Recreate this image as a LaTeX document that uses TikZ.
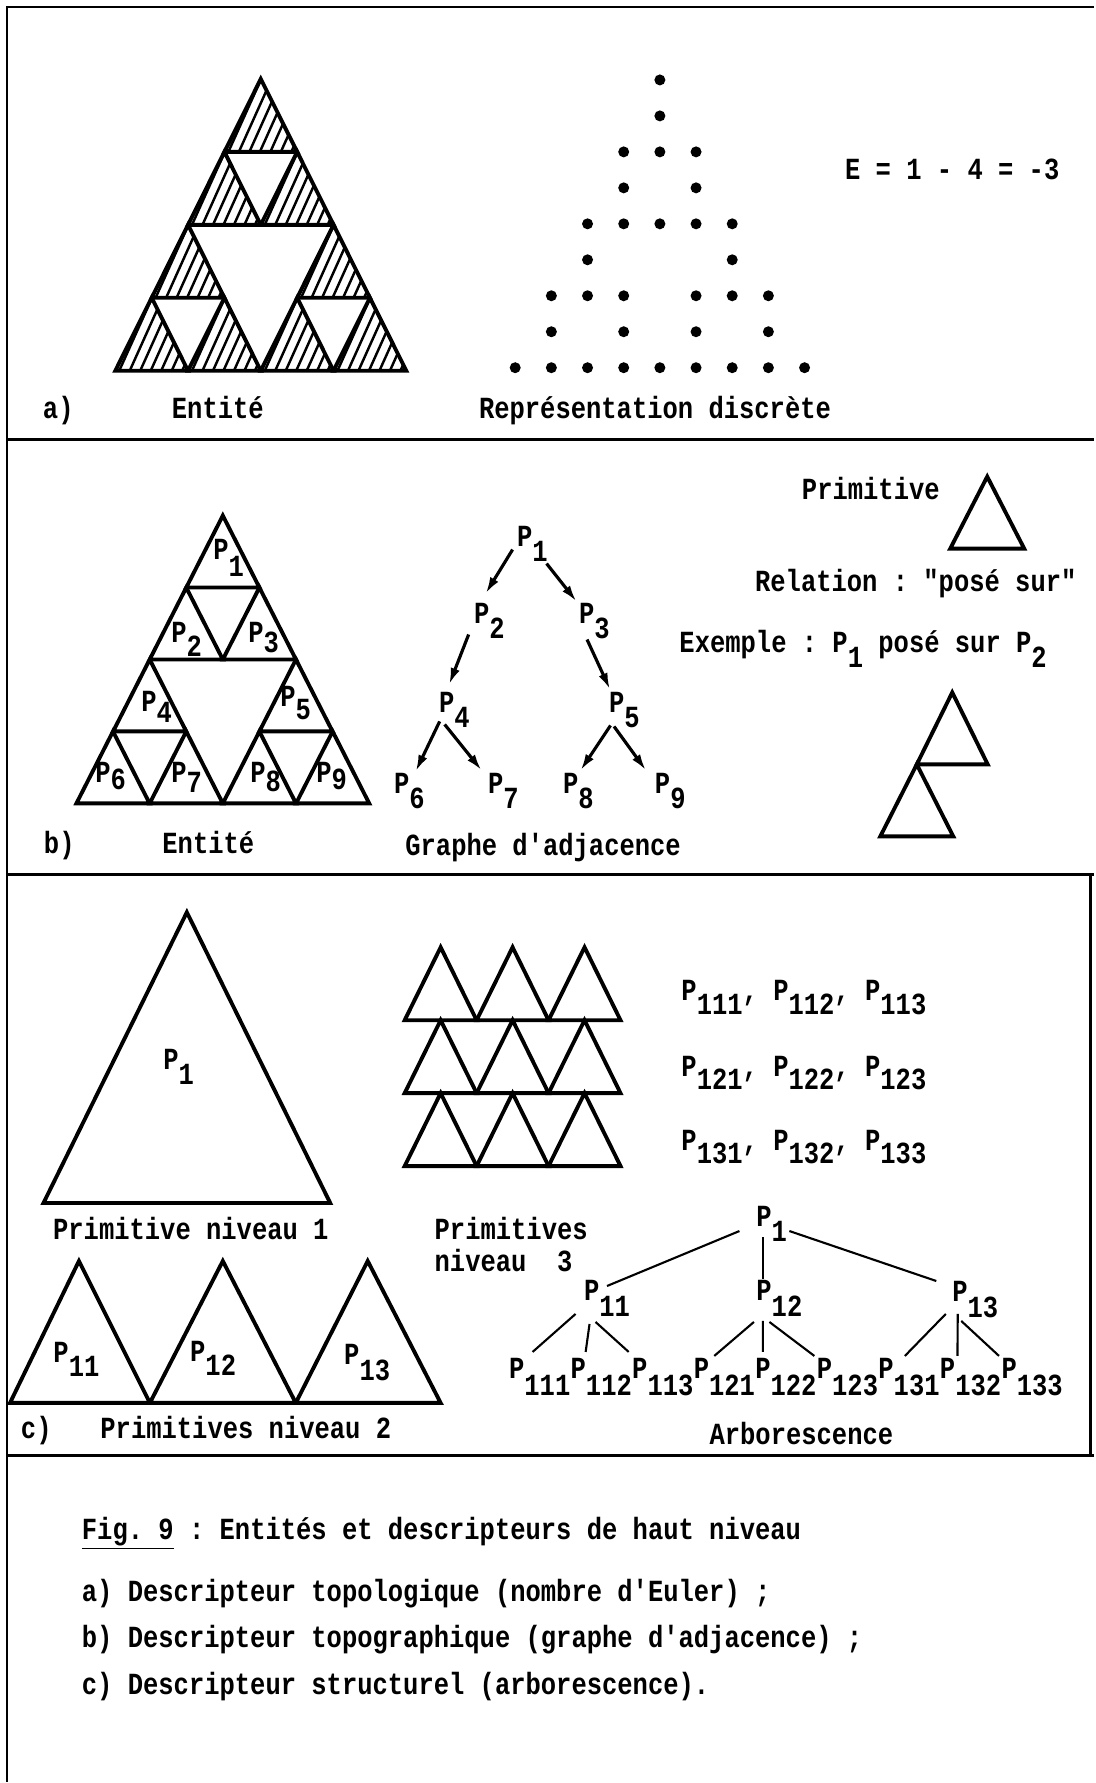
\documentclass[tikz,border=0pt]{standalone}
\usepackage{fontspec}
\setmonofont{Liberation Mono}[FakeStretch=0.83]
\usetikzlibrary{arrows.meta,calc}

\newcommand{\Pn}[2][0.5em]{P\raisebox{-#1}[0pt][0pt]{#2}}
\newcommand{\trpath}[4]{(#1,#2) -- ++(-#3,#4) -- ++({2*#3},0) -- cycle}

\tikzset{
  prt/.style={font=\ttfamily\bfseries\fontsize{17.5}{20}\selectfont, inner sep=0pt, outer sep=0pt},
  prtl/.style={prt, anchor=base west},
  prtc/.style={prt, anchor=base},
  tri/.style={draw=black, line width=2.2pt},
  hatch/.style={draw=black, line width=1.4pt},
  frameline/.style={draw=black, line width=1.6pt},
  dotpt/.style={fill=black},
  adjarrow/.style={-{Latex[length=3.3mm,width=1.9mm]}, line width=1.8pt},
  treeedge/.style={line width=1.2pt}
}

\begin{document}
\begin{tikzpicture}[x=0.02cm,y=-0.02cm]

  % page and frame
  \path[fill=white] (0,0) rectangle (1095,1783);
  \draw[frameline] (7,1783) -- (7,7) -- (1095,7);
  \draw[frameline] (7,440) -- (1095,440);
  \draw[frameline] (7,875) -- (1095,875);
  \draw[frameline] (7,1457) -- (1095,1457);
  \draw[frameline] (1091,875) -- (1091,1457);

  % a) hatched entity
  \foreach \ax/\ay in {261/79, 224.6/152, 297.4/152, 188.2/225, 151.8/298, 224.6/298, 333.8/225, 297.4/298, 370.2/298} {
    \begin{scope}
      \clip \trpath{\ax}{\ay}{36.4}{73};
      \foreach \k in {-1,...,8}
        \draw[hatch] ({\ax+\k*10.5+4},{\ay-8}) -- ++(-45,100);
    \end{scope}
    \draw[tri] \trpath{\ax}{\ay}{36.4}{73};
  }

  % a) discrete representation
  \foreach \r/\cols in {0/{4}, 1/{4}, 2/{3,4,5}, 3/{3,5}, 4/{2,3,4,5,6}, 5/{2,6}, 6/{1,2,3,5,6,7}, 7/{1,3,5,7}, 8/{0,1,2,3,4,5,6,7,8}}
    \foreach \c in \cols
      \fill[dotpt] ({515.6+36.2*\c},{80+36*\r}) circle[radius=5.5];

  \node[prtc] (euler) at (953,180) {E = 1 - 4 = -3};
  \node[prtl] (lblA) at (43,419) {a)};
  \node[prtc] (entA) at (218,419) {Entité};
  \node[prtc] (repA) at (655.5,419) {Représentation discrète};

  % b) entity with primitives
  \foreach \ax/\ay in {223/516, 186.4/588, 259.6/588, 149.8/660, 113.1/732, 186.4/732, 296.2/660, 259.6/732, 332.9/732}
    \draw[tri] \trpath{\ax}{\ay}{36.6}{72};

  \node[prtl] (b1) at (213.5,560) {\Pn[0.55em]{1}};
  \node[prtl] (b2) at (171.5,643) {\Pn[0.45em]{2}};
  \node[prtl] (b3) at (248.5,643) {\Pn[0.33em]{3}};
  \node[prtl] (b4) at (141.5,712) {\Pn[0.37em]{4}};
  \node[prtl] (b5) at (280.5,707) {\Pn[0.42em]{5}};
  \node[prtl] (b6) at (95.5,783) {\Pn[0.23em]{6}};
  \node[prtl] (b7) at (171.5,783) {\Pn[0.33em]{7}};
  \node[prtl] (b8) at (250.5,783) {\Pn[0.3em]{8}};
  \node[prtl] (b9) at (316.5,783) {\Pn[0.23em]{9}};

  % b) adjacency graph
  \node[prtl] (g1) at (517.5,547) {\Pn{1}};
  \node[prtl] (g2) at (474.5,624) {\Pn{2}};
  \node[prtl] (g3) at (579.5,624) {\Pn{3}};
  \node[prtl] (g4) at (439.5,713) {\Pn{4}};
  \node[prtl] (g5) at (609.5,713) {\Pn{5}};
  \node[prtl] (g6) at (394.5,794) {\Pn{6}};
  \node[prtl] (g7) at (488.5,794) {\Pn{7}};
  \node[prtl] (g8) at (563.5,794) {\Pn{8}};
  \node[prtl] (g9) at (655.5,794) {\Pn{9}};

  \draw[adjarrow] ($(g1.base west)+(-4.5,3)$) -- ($(g2.base west)+(11.5,-30)$);
  \draw[adjarrow] ($(g1.base west)+(29.5,17)$) -- ($(g3.base west)+(-2.5,-22)$);
  \draw[adjarrow] ($(g2.base west)+(-5.5,11)$) -- ($(g4.base west)+(10,-28)$);
  \draw[adjarrow] ($(g3.base west)+(8,16)$) -- ($(g5.base west)+(1,-23)$);
  \draw[adjarrow] ($(g4.base west)+(0.5,9)$) -- ($(g6.base west)+(21.5,-22)$);
  \draw[adjarrow] ($(g4.base west)+(5.5,12)$) -- ($(g7.base west)+(-6.5,-23)$);
  \draw[adjarrow] ($(g5.base west)+(1.5,13)$) -- ($(g8.base west)+(17.5,-23)$);
  \draw[adjarrow] ($(g5.base west)+(5,14)$) -- ($(g9.base west)+(-9,-23)$);

  % b) primitive and relation
  \node[prtc] (primB) at (871.5,500) {Primitive};
  \draw[tri] \trpath{988}{477}{37}{72};
  \node[prtc] (relB) at (916.5,592) {Relation : "posé sur"};
  \node[prtl] (exB) at (680,653) {Exemple : \Pn{1} posé sur \Pn{2}};
  \draw[tri] \trpath{953}{693}{35.5}{72};
  \draw[tri] \trpath{917.5}{765}{36.5}{72};

  \node[prtl] (lblB) at (44,854) {b)};
  \node[prtc] (entB) at (208.5,854) {Entité};
  \node[prtc] (graphB) at (543.5,856) {Graphe d'adjacence};

  % c) primitives of three levels
  \draw[tri] \trpath{187}{913}{143.5}{291};
  \node[prtl] (big1) at (163.5,1070) {\Pn{1}};
  \node[prtc] (prim1) at (191,1240) {Primitive niveau 1};

  \foreach \ry in {948,1021,1094}
    \foreach \ax in {441,513,585}
      \draw[tri] \trpath{\ax}{\ry}{36}{73};

  \node[prtl] (lev3a) at (682,1001) {\Pn[0.45em]{111}, \Pn[0.45em]{112}, \Pn[0.45em]{113}};
  \node[prtl] (lev3b) at (682,1077) {\Pn[0.45em]{121}, \Pn[0.45em]{122}, \Pn[0.45em]{123}};
  \node[prtl] (lev3c) at (682,1151) {\Pn[0.45em]{131}, \Pn[0.45em]{132}, \Pn[0.45em]{133}};
  \node[prtl] (prim3a) at (435,1240) {Primitives};
  \node[prtl] (prim3b) at (435,1272) {niveau~~3};

  \foreach \bl/\ax/\br in {10/79/150, 150/223/296, 296/368/441}
    \draw[tri] (\bl,1404) -- (\ax,1262) -- (\br,1404) -- cycle;
  \node[prtl] (q11) at (53.5,1364) {\Pn[0.45em]{11}};
  \node[prtl] (q12) at (190.3,1363) {\Pn[0.45em]{12}};
  \node[prtl] (q13) at (344.5,1366) {\Pn{13}};

  \node[prtl] (lblC) at (21,1440) {c)};
  \node[prtc] (prim2) at (246,1440) {Primitives niveau 2};
  \node[prtc] (arbo) at (802,1446) {Arborescence};

  % c) tree
  \node[prtl] (t1) at (757,1227) {\Pn{1}};
  \node[prtl] (t11) at (584.5,1302) {\Pn{11}};
  \node[prtl] (t12) at (757,1302) {\Pn{12}};
  \node[prtl] (t13) at (953,1303) {\Pn{13}};
  \foreach \i/\n in {0/111, 1/112, 2/113, 3/121, 4/122, 5/123, 6/131, 7/132, 8/133}
    \node[prtl] (t\n) at ({509.5+61.6*\i},1380) {\Pn[0.55em]{\n}};

  \draw[treeedge] ($(t1.base west)+(-17,5)$) -- ($(t11.base west)+(23,-15)$);
  \draw[treeedge] ($(t1.base west)+(6.5,11)$) -- ($(t12.base west)+(6.5,-22)$);
  \draw[treeedge] ($(t1.base west)+(33,5)$) -- ($(t13.base west)+(-16,-21)$);

  \draw[treeedge] ($(t11.base west)+(-8.5,13)$) -- ($(t111.base west)+(23.5,-27)$);
  \draw[treeedge] ($(t11.base west)+(5.5,23)$) -- ($(t112.base west)+(15,-27)$);
  \draw[treeedge] ($(t11.base west)+(11.5,21)$) -- ($(t113.base west)+(-3.5,-27)$);

  \draw[treeedge] ($(t12.base west)+(-2.5,21)$) -- ($(t121.base west)+(20.5,-23)$);
  \draw[treeedge] ($(t12.base west)+(6.5,20)$) -- ($(t122.base west)+(7.5,-27)$);
  \draw[treeedge] ($(t12.base west)+(13,21)$) -- ($(t123.base west)+(-2.5,-23)$);

  \draw[treeedge] ($(t13.base west)+(-6.5,12)$) -- ($(t131.base west)+(26.5,-23)$);
  \draw[treeedge] ($(t13.base west)+(5.5,12)$) -- ($(t132.base west)+(17.5,-23)$);
  \draw[treeedge] ($(t13.base west)+(9,19)$) -- ($(t133.base west)+(-2.5,-23)$);

  % caption
  \node[prtl] (cap0) at (82,1541) {\underline{Fig. 9} : Entités et descripteurs de haut niveau};
  \node[prtl] (cap1) at (82,1603) {a) Descripteur topologique (nombre d'Euler) ;};
  \node[prtl] (cap2) at (82,1649) {b) Descripteur topographique (graphe d'adjacence) ;};
  \node[prtl] (cap3) at (82,1696) {c) Descripteur structurel (arborescence).};

\end{tikzpicture}
\end{document}
